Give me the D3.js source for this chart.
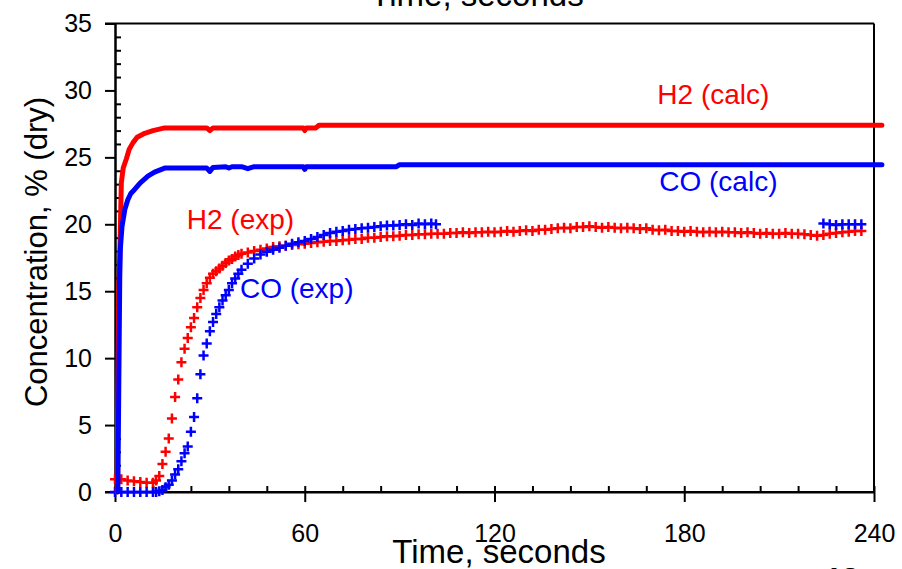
<!DOCTYPE html>
<html>
<head>
<meta charset="utf-8">
<script src="https://cdn.jsdelivr.net/npm/d3@7"></script>
<style>
  body { margin: 0; background: #fff; }
  svg { display: block; }
  text { font-family: "Liberation Sans", Arial, sans-serif; }
</style>
</head>
<body>
<svg id="chart" width="902" height="569"></svg>
<script>
// Measured gas composition (markers) and equilibrium calculation (lines)

const h2ExpTime = [0,2,4,6,8,10,12,
  13,14,15,16,17,18,19,20,21,22,23,24,25,26,27,28,29,30,31,32,33,34,35,36,37,38,39,40,
  42,44,46,48,50,52,54,56,58,60,62,64,66,68,70,72,74,76,78,80,82,84,86,88,90,92,94,96,98,100,
  102,104,106,108,110,112,114,116,118,120,122,124,126,128,130,132,134,136,138,140,142,144,146,148,150,
  152,154,156,158,160,162,164,166,168,170,172,174,176,178,180,182,184,186,188,190,192,194,196,198,200,
  202,204,206,208,210,212,214,216,218,220,222,224,226,228,230,232,234,236];
const h2ExpConc = [0.95,0.95,0.85,0.8,0.75,0.7,0.7,
  0.85,1.2,2.1,3.0,4.0,5.5,7.1,8.4,9.7,10.7,11.5,12.3,13.0,13.8,14.5,15.1,15.6,16.0,16.3,16.5,16.7,16.9,17.1,17.3,17.4,17.6,17.7,17.8,
  17.9,18.0,18.1,18.2,18.3,18.35,18.4,18.45,18.5,18.55,18.6,18.65,18.7,18.75,18.75,18.8,18.85,18.9,18.9,19.0,19.0,19.05,19.1,19.1,19.15,19.2,19.2,19.25,19.25,19.3,
  19.3,19.3,19.35,19.35,19.4,19.35,19.4,19.4,19.45,19.4,19.45,19.5,19.45,19.5,19.55,19.5,19.6,19.6,19.65,19.7,19.75,19.7,19.8,19.8,19.85,
  19.8,19.75,19.8,19.75,19.7,19.75,19.7,19.65,19.7,19.6,19.55,19.6,19.5,19.5,19.45,19.5,19.45,19.4,19.45,19.4,19.45,19.4,19.4,19.35,19.4,
  19.35,19.3,19.35,19.3,19.3,19.35,19.3,19.3,19.25,19.2,19.15,19.2,19.3,19.35,19.4,19.45,19.5,19.5];

const coExpTime = [0,2,4,6,8,10,12,
  13,14,15,16,17,18,19,20,21,22,23,24,25,26,27,28,29,30,31,32,33,34,35,36,37,38,39,40,
  42,44,46,48,50,52,54,56,58,60,62,64,66,68,70,72,74,76,78,80,82,84,86,88,90,92,94,96,98,100,101.5,
  224,226,228,230,232,234,236];
const coExpConc = [0,0,0,0,0,0,0,
  0,0.05,0.15,0.35,0.55,0.85,1.3,1.7,2.3,2.9,3.4,4.5,5.6,7.0,8.8,10.2,11.1,12.0,12.7,13.3,13.8,14.3,14.7,15.1,15.6,15.95,16.3,16.6,
  17.05,17.45,17.75,17.95,18.1,18.25,18.4,18.55,18.65,18.75,18.9,19.05,19.2,19.35,19.45,19.5,19.6,19.65,19.7,19.75,19.8,19.85,19.9,19.9,19.95,20.0,19.95,20.05,20.0,20.05,20.0,
  20.05,20.0,19.95,20.0,20.0,20.0,20.0];

const h2CalcTime = [0.7,0.9,1.2,1.6,2.0,2.6,3.6,4.5,5.7,7,9.4,12,15.7,29,30,31,59.5,60,60.5,63.5,64.5,242.5];
const h2CalcConc = [0,8,15,18.6,23.1,24.2,24.9,25.6,26.1,26.5,26.8,27.0,27.2,27.2,27.0,27.2,27.2,27.0,27.2,27.2,27.4,27.4];

const coCalcTime = [0.9,1.2,1.5,1.7,2.2,3.1,4,5,6.2,8,10.4,12.5,15.7,29,30,31,35,36,37,40,42,44,59.5,60,60.5,89,90,242.5];
const coCalcConc = [0,8,16,18.2,19.8,21.1,21.8,22.3,22.6,23.1,23.6,23.9,24.2,24.2,23.95,24.25,24.3,24.2,24.3,24.3,24.15,24.3,24.3,24.1,24.3,24.3,24.45,24.45];

const xMajorTicks = [0, 60, 120, 180, 240];
const xTickLabels = ["0", "60", "120", "180", "240"];
const yMajorTicks = [0, 5, 10, 15, 20, 25, 30, 35];
const yTickLabels = ["0", "5", "10", "15", "20", "25", "30", "35"];

const seriesLabels = [
  { text: "H2 (calc)", color: "#ff0000", t: 171.5, c: 28.95 },
  { text: "CO (calc)", color: "#0000ff", t: 172.1, c: 22.5 },
  { text: "H2 (exp)",  color: "#ff0000", t: 22.7,  c: 19.65 },
  { text: "CO (exp)",  color: "#0000ff", t: 39.5,  c: 14.5 }
];

const RED = "#ff0000", BLUE = "#0000ff";

const svg = d3.select("#chart");
const plotLeft = 115, plotRight = 874, plotTop = 23.5, plotBottom = 492;

const x = d3.scaleLinear().domain([0, 240]).range([plotLeft, plotRight]);
const y = d3.scaleLinear().domain([0, 35]).range([plotBottom, plotTop]);

const zip = (ts, cs) => ts.map((t, i) => ({ t, c: cs[i] }));

// frame: top and right borders
svg.append("line").attr("x1", 105).attr("x2", plotRight).attr("y1", plotTop).attr("y2", plotTop)
  .attr("stroke", "#000").attr("stroke-width", 2);
svg.append("line").attr("x1", plotRight).attr("x2", plotRight).attr("y1", plotTop).attr("y2", plotBottom)
  .attr("stroke", "#000").attr("stroke-width", 2);

// y axis: major ticks outside, minor ticks inside every 1%
const yAxis = svg.append("g").attr("transform", `translate(${plotLeft},0)`)
  .call(d3.axisLeft(y).tickValues(yMajorTicks).tickFormat((d, i) => yTickLabels[i])
    .tickSize(10).tickSizeOuter(0).tickPadding(13));
const yMinor = svg.append("g").attr("transform", `translate(${plotLeft},0)`)
  .call(d3.axisRight(y).tickValues(d3.range(0, 36).filter(v => v % 5 !== 0))
    .tickSize(6).tickSizeOuter(0).tickFormat(""));

// x axis: major ticks crossing, minor ticks inside every 12 s
const xAxis = svg.append("g").attr("transform", `translate(0,${plotBottom})`)
  .call(d3.axisBottom(x).tickValues(xMajorTicks).tickFormat((d, i) => xTickLabels[i])
    .tickSize(10).tickSizeOuter(0).tickPadding(22));
xAxis.selectAll(".tick line").attr("y1", -6);
const xMinor = svg.append("g").attr("transform", `translate(0,${plotBottom})`)
  .call(d3.axisTop(x).tickValues(d3.range(0, 241, 12).filter(v => v % 60 !== 0))
    .tickSize(6).tickSizeOuter(0).tickFormat(""));

[yAxis, yMinor, xAxis, xMinor].forEach(g => {
  g.select(".domain").attr("stroke", "#000").attr("stroke-width", 2);
  g.selectAll(".tick line").attr("stroke", "#000").attr("stroke-width", 2);
});
xAxis.select(".domain").attr("d", `M105,0H${plotRight}`);
[yAxis, xAxis].forEach(g => g.selectAll(".tick text")
  .attr("font-size", 25).attr("fill", "#000")
  .attr("font-family", '"Liberation Sans", Arial, sans-serif'));

// measured points as "+" markers
const cross = "M-5,0H5M0,-5V5";
function drawMarkers(data, color) {
  svg.append("g").selectAll("path").data(data).join("path")
    .attr("d", cross)
    .attr("transform", d => `translate(${x(d.t)},${y(d.c)})`)
    .attr("stroke", color).attr("stroke-width", 2.5).attr("fill", "none");
}
drawMarkers(zip(h2ExpTime, h2ExpConc), RED);
drawMarkers(zip(coExpTime, coExpConc), BLUE);

// calculated curves
const line = d3.line().x(d => x(d.t)).y(d => y(d.c));
function drawLine(data, color) {
  svg.append("path").datum(data).attr("d", line)
    .attr("fill", "none").attr("stroke", color).attr("stroke-width", 5)
    .attr("stroke-linejoin", "round").attr("stroke-linecap", "round");
}
drawLine(zip(h2CalcTime, h2CalcConc), RED);
drawLine(zip(coCalcTime, coCalcConc), BLUE);

// series labels
svg.append("g").selectAll("text").data(seriesLabels).join("text")
  .attr("x", d => x(d.t)).attr("y", d => y(d.c))
  .attr("fill", d => d.color).attr("font-size", 28)
  .text(d => d.text);

// axis titles
svg.append("text").attr("x", 499).attr("y", 563).attr("text-anchor", "middle")
  .attr("font-size", 33).attr("fill", "#000").text("Time, seconds");
svg.append("text").attr("x", 477).attr("y", 6).attr("text-anchor", "middle")
  .attr("font-size", 33).attr("fill", "#000").text("Time, seconds");
svg.append("text").attr("transform", "translate(47,252) rotate(-90)").attr("text-anchor", "middle")
  .attr("font-size", 31).attr("fill", "#000").text("Concentration, % (dry)");
svg.append("text").attr("x", 842).attr("y", 588).attr("text-anchor", "middle")
  .attr("font-size", 30).attr("font-weight", "bold").attr("fill", "#000").text("13");
</script>
</body>
</html>
